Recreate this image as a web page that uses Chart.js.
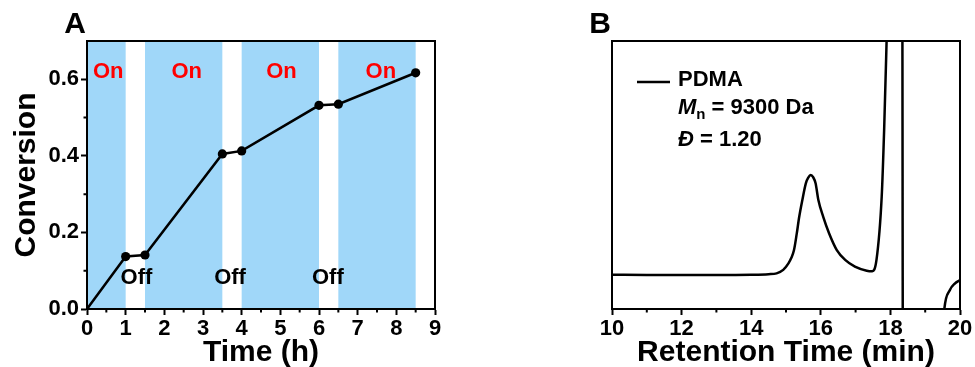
<!DOCTYPE html>
<html><head><meta charset="utf-8">
<script src="https://cdn.jsdelivr.net/npm/chart.js@4.4.1/dist/chart.umd.min.js"></script>
<style>
html,body{margin:0;padding:0;background:#fff;}
#wrap{position:relative;width:975px;height:367px;overflow:hidden;background:#fff;}
.pane{position:absolute;top:0;}
</style></head><body>
<div id="wrap">
  <div class="pane" style="left:0;width:470px;height:367px"><canvas id="ca" width="470" height="367"></canvas></div>
  <div class="pane" style="left:560px;width:415px;height:367px"><canvas id="cb" width="415" height="367"></canvas></div>
</div>
<script>
// ---------- Panel A data ----------
const timeH      = [0, 1, 1.5, 3.5, 4, 6, 6.5, 8.5];
const conversion = [0, 0.137, 0.141, 0.405, 0.413, 0.532, 0.535, 0.617];
const onStart    = [0, 1.5, 4, 6.5];
const onEnd      = [1, 3.5, 6, 8.5];
const onLabelX   = [0.55, 2.58, 5.03, 7.6];
const onLabelY   = 0.619;
const offLabelX  = [1.28, 3.7, 6.23];
const offLabelY  = 0.081;
const xTicksA    = [0, 1, 2, 3, 4, 5, 6, 7, 8, 9];
const xMinorA    = [0.5, 1.5, 2.5, 3.5, 4.5, 5.5, 6.5, 7.5, 8.5];
const yTicksA    = [0, 0.2, 0.4, 0.6];
const yMinorA    = [0.1, 0.3, 0.5];

// ---------- Panel B data ----------
const retTime = [10, 11, 12, 13, 14, 14.5, 14.73, 14.92, 15.07, 15.15, 15.23, 15.31, 15.38, 15.47, 15.57, 15.64, 15.71, 15.78, 15.85, 15.93, 16.07, 16.24, 16.46, 16.7, 16.98, 17.32, 17.48, 17.6, 17.75, 17.82, 17.89, 17.95, 18.34, 18.36, 19.4, 19.55, 19.71, 19.85, 20];
const signal  = [0.128, 0.127, 0.127, 0.127, 0.128, 0.130, 0.133, 0.146, 0.17, 0.19, 0.22, 0.282, 0.344, 0.407, 0.469, 0.49, 0.50, 0.492, 0.469, 0.407, 0.344, 0.282, 0.22, 0.183, 0.158, 0.143, 0.141, 0.183, 0.419, 0.668, 0.997, 1.3, 1.3, -0.3, -0.3, 0, 0.071, 0.095, 0.108];
const xTicksB = [10, 12, 14, 16, 18, 20];
const xMinorB = [11, 13, 15, 17, 19];

const FONT = "'Liberation Sans', Arial, Helvetica, sans-serif";
Chart.defaults.font.family = FONT;
Chart.defaults.color = '#000';
const BAND = '#a0d7f9';

function minorTicks(chart, xs, ys) {
  const {ctx, chartArea: a, scales} = chart;
  ctx.save();
  ctx.strokeStyle = '#000'; ctx.lineWidth = 2;
  ctx.beginPath();
  (xs || []).forEach(v => { const p = scales.x.getPixelForValue(v); ctx.moveTo(p, a.bottom); ctx.lineTo(p, a.bottom + 3.5); });
  (ys || []).forEach(v => { const p = scales.y.getPixelForValue(v); ctx.moveTo(a.left, p); ctx.lineTo(a.left - 3.5, p); });
  ctx.stroke();
  ctx.lineWidth = 2;
  ctx.strokeRect(a.left, a.top, a.right - a.left, a.bottom - a.top);
  ctx.restore();
}

const pluginA = {
  id: 'pa',
  beforeDraw(chart) {
    const {ctx, chartArea: a, scales: {x, y}} = chart;
    ctx.save();
    ctx.fillStyle = BAND;
    for (let i = 0; i < onStart.length; i++) {
      const x0 = x.getPixelForValue(onStart[i]), x1 = x.getPixelForValue(onEnd[i]);
      ctx.fillRect(x0, a.top, x1 - x0, a.bottom - a.top);
    }
    ctx.font = 'bold 22px ' + FONT;
    ctx.textAlign = 'center'; ctx.textBaseline = 'middle';
    ctx.fillStyle = '#ff0000';
    onLabelX.forEach(v => ctx.fillText('On', x.getPixelForValue(v), y.getPixelForValue(onLabelY)));
    ctx.fillStyle = '#000';
    offLabelX.forEach(v => ctx.fillText('Off', x.getPixelForValue(v), y.getPixelForValue(offLabelY)));
    ctx.font = 'bold 30px ' + FONT;
    ctx.fillText('A', 75, 25);
    ctx.restore();
  },
  afterDraw(chart) { minorTicks(chart, xMinorA, yMinorA); }
};

const pluginB = {
  id: 'pb',
  afterDraw(chart) {
    minorTicks(chart, xMinorB, null);
    const {ctx} = chart;
    ctx.save();
    ctx.fillStyle = '#000'; ctx.strokeStyle = '#000';
    ctx.font = 'bold 30px ' + FONT; ctx.textAlign = 'center'; ctx.textBaseline = 'middle';
    ctx.fillText('B', 40, 25);
    ctx.lineWidth = 2.5;
    ctx.beginPath(); ctx.moveTo(77, 82); ctx.lineTo(110, 82); ctx.stroke();
    ctx.textAlign = 'left';
    ctx.font = 'bold 22px ' + FONT;
    ctx.fillText('PDMA', 118, 80);
    let xx = 118;
    ctx.font = 'italic bold 22px ' + FONT;
    ctx.fillText('M', xx, 108); xx += ctx.measureText('M').width;
    ctx.font = 'bold 15px ' + FONT;
    ctx.fillText('n', xx, 115); xx += ctx.measureText('n').width;
    ctx.font = 'bold 22px ' + FONT;
    ctx.fillText(' = 9300 Da', xx, 108);
    xx = 118;
    ctx.font = 'italic bold 22px ' + FONT;
    ctx.fillText('\u0110', xx, 140); xx += ctx.measureText('\u0110').width;
    ctx.font = 'bold 22px ' + FONT;
    ctx.fillText(' = 1.20', xx, 140);
    ctx.restore();
  }
};

const axisCommon = (ticksArr) => ({
  type: 'linear',
  afterBuildTicks: s => { s.ticks = ticksArr.map(v => ({value: v})); },
  grid: {display: true, drawOnChartArea: false, drawTicks: true, tickLength: 6, tickWidth: 2, tickColor: '#000', color: '#000'},
  border: {display: true, width: 2, color: '#000'},
});

new Chart(document.getElementById('ca'), {
  type: 'line',
  data: {datasets: [{
    data: timeH.map((t, i) => ({x: t, y: conversion[i]})),
    borderColor: '#000', backgroundColor: '#000', borderWidth: 2.5,
    pointRadius: c => (c.dataIndex === 0 ? 0 : 4.6), pointBackgroundColor: '#000', pointBorderWidth: 0, tension: 0, clip: false
  }]},
  options: {
    responsive: false, animation: false,
    layout: {padding: {left: 0, top: 41, right: 35, bottom: 0}},
    plugins: {legend: {display: false}, tooltip: {enabled: false}},
    scales: {
      x: Object.assign(axisCommon(xTicksA), {
        min: 0, max: 9, position: 'bottom',
        ticks: {font: {size: 22, weight: 'bold'}, color: '#000', padding: 1, maxRotation: 0, autoSkip: false, callback: v => String(v)},
        title: {display: true, text: 'Time (h)', font: {size: 30, weight: 'bold'}, color: '#000', padding: {top: 0, bottom: -4}},
        afterFit: s => { s.height = 58; }
      }),
      y: Object.assign(axisCommon(yTicksA), {
        min: 0, max: 0.7, position: 'left',
        ticks: {font: {size: 22, weight: 'bold'}, color: '#000', padding: 2, autoSkip: false, callback: v => Number(v).toFixed(1)},
        title: {display: true, text: 'Conversion', font: {size: 30, weight: 'bold'}, color: '#000', padding: {top: 9, bottom: 0}},
        afterFit: s => { s.width = 87; }
      })
    }
  },
  plugins: [pluginA]
});

new Chart(document.getElementById('cb'), {
  type: 'line',
  data: {datasets: [{
    data: retTime.map((t, i) => ({x: t, y: signal[i]})),
    borderColor: '#000', borderWidth: 2.5, pointRadius: 0, cubicInterpolationMode: 'monotone', fill: false
  }]},
  options: {
    responsive: false, animation: false,
    layout: {padding: {left: 52, top: 41, right: 15, bottom: 0}},
    plugins: {legend: {display: false}, tooltip: {enabled: false}},
    scales: {
      x: Object.assign(axisCommon(xTicksB), {
        min: 10, max: 20, position: 'bottom',
        ticks: {font: {size: 22, weight: 'bold'}, color: '#000', padding: 1, maxRotation: 0, autoSkip: false, callback: v => String(v)},
        title: {display: true, text: 'Retention Time (min)', font: {size: 30, weight: 'bold'}, color: '#000', padding: {top: 0, bottom: -4}},
        afterFit: s => { s.height = 58; }
      }),
      y: {type: 'linear', display: false, min: 0, max: 1}
    }
  },
  plugins: [pluginB]
});
</script>
</body></html>
